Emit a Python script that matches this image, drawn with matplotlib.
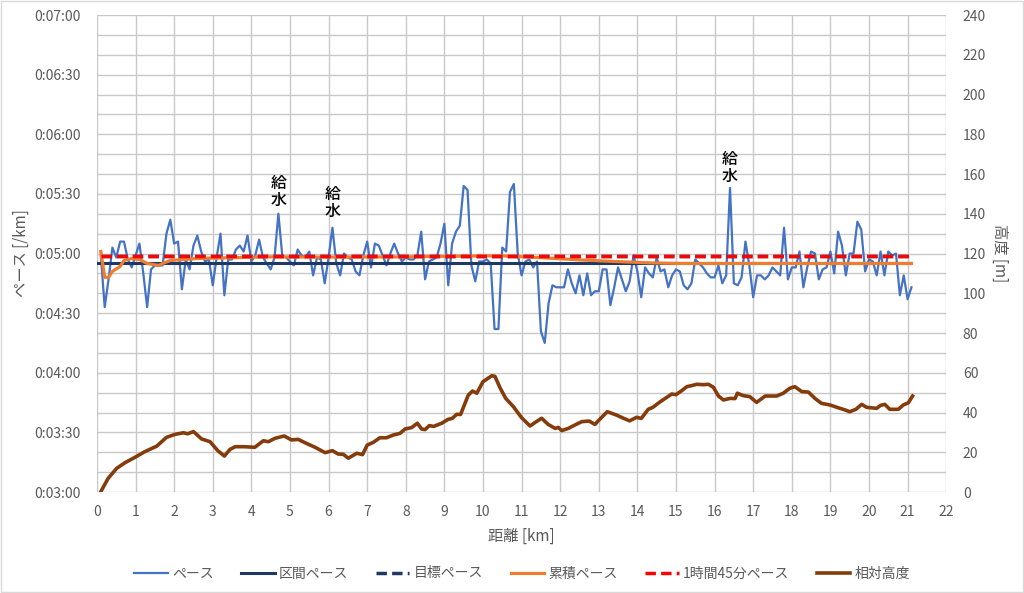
import matplotlib.pyplot as plt
from matplotlib.patches import Rectangle
import numpy as np

plt.rcParams['font.family'] = ['Noto Sans CJK JP', 'DejaVu Sans']

# ペース (sec/km) every 0.1 km from 0.1 to 21.1
pace_sec = [299, 273, 287, 303, 298, 306, 306, 297, 293, 299,
            305, 290, 273, 292, 294, 294, 294, 310, 317, 305,
            306, 282, 297, 292, 304, 309, 301, 296, 297, 284,
            298, 310, 279, 297, 297, 302, 304, 301, 309, 296,
            299, 307, 298, 295, 292, 298, 320, 299, 298, 296,
            294, 302, 299, 298, 301, 289, 298, 297, 285, 298,
            313, 295, 289, 300, 298, 297, 291, 289, 299, 306,
            293, 305, 304, 299, 294, 300, 305, 300, 296, 298,
            297, 297, 299, 311, 287, 296, 297, 298, 305, 315,
            284, 305, 311, 314, 334, 332, 294, 286, 296, 296,
            297, 295, 262, 262, 303, 301, 331, 335, 300, 289,
            296, 297, 293, 296, 261, 255, 275, 284, 283, 283,
            283, 292, 285, 280, 289, 279, 290, 279, 281, 281,
            292, 292, 274, 283, 293, 287, 281, 286, 299, 291,
            278, 293, 290, 288, 298, 291, 292, 283, 289, 292,
            291, 284, 282, 285, 297, 295, 293, 290, 288, 288,
            294, 285, 289, 333, 285, 284, 288, 306, 294, 278,
            289, 289, 287, 289, 293, 291, 289, 313, 287, 293,
            293, 301, 283, 293, 301, 300, 287, 292, 293, 301,
            290, 311, 304, 289, 300, 300, 316, 312, 291, 297,
            296, 289, 301, 289, 301, 299, 300, 279, 289, 277,
            283]
pace_km = np.round(np.arange(1, len(pace_sec) + 1) * 0.1, 1)

# 区間ペース / 目標ペース / 1時間45分ペース
interval_km = [0.0, 21.1]
interval_sec = [295, 295]
target_km = [0.1, 21.1]
target_sec = [298.6, 298.6]
goal_km = [0.1, 21.1]
goal_sec = [298.6, 298.6]

# 累積ペース
cum_km = [0.1, 0.2, 0.3, 0.4, 0.6, 0.7, 0.9, 1.1, 1.3, 1.6, 1.7, 1.9, 2.6, 4.4,
          6.0, 8.0, 10.0, 10.5, 11.0, 11.6, 12.5, 13.4, 14.3, 15.1, 16.0, 17.0,
          18.0, 19.0, 20.0, 21.1]
cum_sec = [301, 288, 288, 291, 293.5, 296.5, 297.5, 297, 295, 294, 295, 296.5,
           297.5, 298.3, 298.2, 298.3, 298.8, 298.8, 298.4, 297.8, 296.8, 296,
           295.3, 295, 295, 295, 295, 295, 295, 295]

# 相対高度 (m)
alt_km = [0.1, 0.29, 0.51, 0.73, 0.98, 1.24, 1.55, 1.8, 2.02, 2.24, 2.35, 2.5,
          2.71, 2.93, 3.13, 3.3, 3.45, 3.58, 3.8, 4.09, 4.31, 4.44, 4.61, 4.85,
          5.04, 5.21, 5.39, 5.65, 5.91, 6.1, 6.25, 6.38, 6.51, 6.73, 6.88, 7.0,
          7.16, 7.33, 7.5, 7.68, 7.85, 7.98, 8.15, 8.3, 8.41, 8.5, 8.61, 8.72,
          8.93, 9.1, 9.2, 9.32, 9.42, 9.62, 9.73, 9.84, 10.0, 10.23, 10.31,
          10.44, 10.59, 10.79, 11.0, 11.22, 11.35, 11.52, 11.69, 11.87, 11.95,
          12.04, 12.21, 12.38, 12.56, 12.75, 12.9, 13.03, 13.22, 13.46, 13.64,
          13.8, 13.98, 14.1, 14.28, 14.4, 14.59, 14.76, 14.89, 15.0, 15.15,
          15.28, 15.4, 15.54, 15.71, 15.84, 15.97, 16.1, 16.23, 16.4, 16.53,
          16.59, 16.74, 16.91, 17.09, 17.31, 17.61, 17.78, 17.95, 18.08, 18.26,
          18.43, 18.6, 18.77, 18.99, 19.2, 19.38, 19.5, 19.66, 19.81, 19.94,
          20.2, 20.3, 20.41, 20.54, 20.76, 20.89, 21.02, 21.13]
alt_m = [0.2, 6.9, 11.9, 14.8, 17.4, 20.3, 23.1, 27.5, 29, 29.8, 29.3, 30.4,
         26.7, 25.3, 20.8, 18.1, 21.5, 22.8, 22.8, 22.5, 25.8, 25.3, 27, 28.2,
         26.2, 26.5, 24.8, 22.5, 19.8, 20.8, 19.1, 19, 17, 19.5, 18.8, 23.6,
         25, 27.3, 27.3, 28.7, 29.5, 31.7, 32.4, 34.6, 31.7, 31.4, 33.4, 33,
         34.6, 36.6, 37, 39.1, 39, 48.8, 50.8, 49.7, 55.5, 58.5, 58.2,
         52.5, 47.1, 42.9, 37.4, 33.2, 35, 37.1, 34, 32, 32.5,
         30.9, 32, 33.7, 35.4, 35.7, 34, 36.7, 40.4, 38.7, 37.1,
         35.8, 37.6, 37, 41.6, 42.6, 45.4, 47.6, 49.3, 49, 51,
         53, 53.5, 54.2, 54, 54.2, 52.7, 48.3, 46.3, 47.1, 47,
         49.7, 48.5, 48, 45.1, 48.3, 48.3, 49.7, 52.2, 53, 50.5,
         50.3, 47.1, 44.6, 43.8, 42.4, 41.3, 40.4, 41.6, 44.1, 42.6,
         42.1, 43.6, 44.1, 41.6, 41.6, 43.8, 44.9, 48.3]

# 給水 points (km, sec)
water_km = [4.7, 6.1, 16.4]
water_sec = [331, 325.5, 343]

grey = '#595959'

fig = plt.figure(figsize=(10.24, 5.93), dpi=100)
ax = fig.add_axes([0.0947, 0.1703, 0.8293, 0.8044])
ax2 = ax.twinx()

ax.plot(pace_km, pace_sec, color='#4472C4', lw=1.6, label='ペース', zorder=3)
ax.plot(interval_km, interval_sec, color='#203864', lw=2.2, label='区間ペース', zorder=3)
ax.plot(target_km, target_sec, color='#1F3864', lw=2.5, ls=(0, (3, 1.5)), label='目標ペース', zorder=3)
ax.plot(cum_km, cum_sec, color='#ED7D31', lw=2.3, label='累積ペース', zorder=4)
ax.plot(goal_km, goal_sec, color='#FF0000', lw=2.5, ls=(0, (3, 1.5)), label='1時間45分ペース', zorder=5)
ax2.plot(alt_km, alt_m, color='#843C0C', lw=2.6, label='相対高度')

for k, s in zip(water_km, water_sec):
    ax.text(k, s, '給\n水', ha='center', va='center', fontsize=11.5, linespacing=1.05,
            color='black', fontweight='medium', zorder=6)

ax.set_xlim(0, 22)
ax.set_ylim(180, 420)
ax.set_xticks(range(0, 23))
ax.set_yticks(range(180, 421, 30))
ax.set_yticks(range(180, 421, 10), minor=True)
ax.set_yticklabels(['0:%02d:%02d' % (v // 60, v % 60) for v in range(180, 421, 30)])
ax.grid(True, which='both', color='#c8c8c8', lw=1)
ax.set_axisbelow(True)

ax2.set_ylim(0, 240)
ax2.set_yticks(range(0, 241, 20))

for a in (ax, ax2):
    for sp in a.spines.values():
        sp.set_visible(False)
    a.tick_params(which='both', length=0, colors=grey, labelsize=10)
ax.tick_params(axis='x', pad=9)
ax.tick_params(axis='y', pad=12)
ax2.tick_params(axis='y', pad=12)

ax.set_xlabel('距離 [km]', color=grey, fontsize=11, labelpad=7)
ax.set_ylabel('ペース [/km]', color=grey, fontsize=11, labelpad=3)
ax2.set_ylabel('高度 [m]', color=grey, fontsize=11, rotation=270, labelpad=16)

h1, l1 = ax.get_legend_handles_labels()
h2, l2 = ax2.get_legend_handles_labels()
fig.legend(h1 + h2, l1 + l2, loc='lower center', bbox_to_anchor=(0.51, 0.0), ncol=6,
           frameon=False, fontsize=10, labelcolor=grey, handlelength=2.4,
           columnspacing=2.0, handletextpad=0.3)

fig.patches.append(Rectangle((0.001, 0.001), 0.998, 0.997, transform=fig.transFigure,
                             fill=False, edgecolor='#d9d9d9', lw=1))

fig.savefig('out.png', dpi=100)
